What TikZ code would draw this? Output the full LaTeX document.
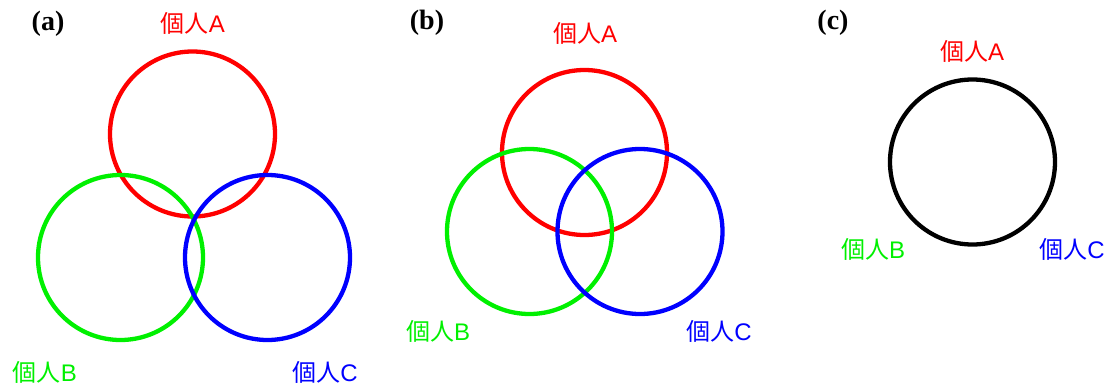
\documentclass[tikz,border=0pt]{standalone}
\usepackage{fontspec}
\setmainfont{Liberation Serif}
\setsansfont{Liberation Sans}
\newfontfamily\cjk{Noto Sans CJK JP}
\usetikzlibrary{positioning}
\definecolor{pA}{RGB}{255,0,0}
\definecolor{pB}{RGB}{0,240,0}
\definecolor{pC}{RGB}{0,0,255}
\newcommand{\kojin}[1]{{\cjk 個人}{\sffamily #1}}

\begin{document}
\begin{tikzpicture}[x=1pt, y=-1pt,
    ring/.style={circle, draw, line width=4.3pt, minimum size=165pt, inner sep=0pt},
    who/.style={font=\fontsize{24}{24}\selectfont, inner sep=0pt},
    tag/.style={font=\bfseries\fontsize{28}{28}\selectfont, inner sep=0pt}]
  \useasboundingbox (0,0) rectangle (1109,386);
  % (a) three separate individuals
  \node[tag] (ta) at (48,24) {(a)};
  \node[ring, pA] (a1) at (192.5,134) {};
  \node[ring, pB] (a2) at (120.5,257.5) {};
  \node[ring, pC] (a3) at (267.5,257.5) {};
  \node[who, pA] (la1) at (193,23) {\kojin{A}};
  \node[who, pB] (la2) at (45,372) {\kojin{B}};
  \node[who, pC] (la3) at (325,372) {\kojin{C}};
  % (b) strongly overlapping
  \node[tag] (tb) at (427,23) {(b)};
  \node[ring, pA] (b1) at (584.5,152.5) {};
  \node[ring, pB] (b2) at (529.5,231.5) {};
  \node[ring, pC] (b3) at (640,231.5) {};
  \node[who, pA] (lb1) at (585,33) {\kojin{A}};
  \node[who, pB] (lb2) at (438,331) {\kojin{B}};
  \node[who, pC] (lb3) at (719,331) {\kojin{C}};
  % (c) one shared circle
  \node[tag] (tc) at (833,23) {(c)};
  \node[ring, black] (c1) at (972.5,162) {};
  \node[who, pA] (lc1) at (972,51) {\kojin{A}};
  \node[who, pB] (lc2) at (873,249) {\kojin{B}};
  \node[who, pC] (lc3) at (1072,249) {\kojin{C}};
\end{tikzpicture}
\end{document}
